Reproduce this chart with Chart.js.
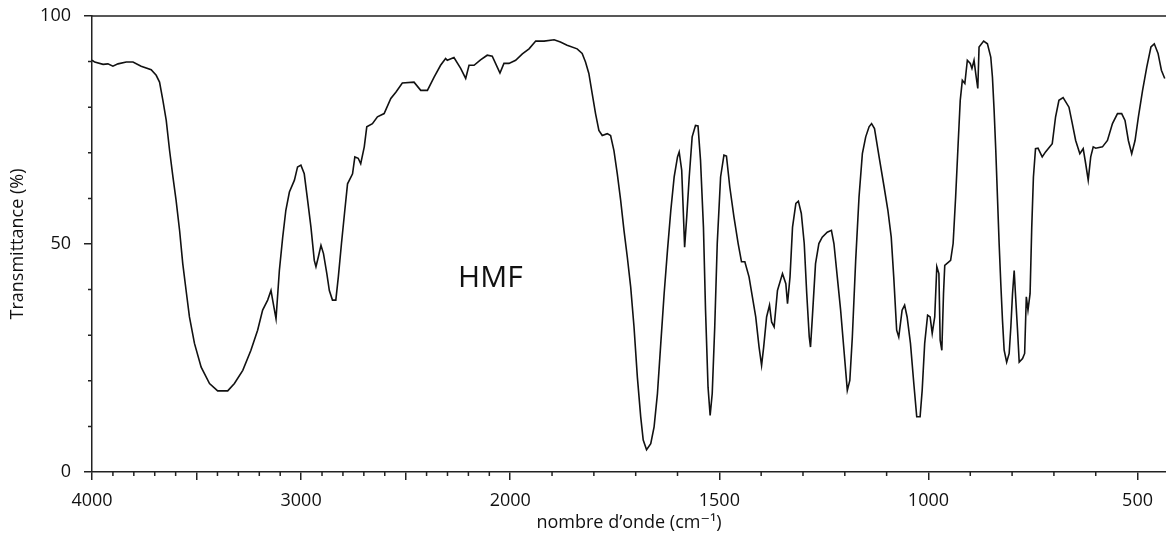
<!DOCTYPE html>
<html>
<head>
    <title>HMF IR spectrum</title>
    <script src="https://cdn.jsdelivr.net/npm/chart.js"></script>
    <style>
        body {
            margin: 0;
            padding: 0;
            background: white;
        }
        canvas {
            display: block;
        }
    </style>
</head>
<body>
    <canvas id="irChart" width="1166" height="540"></canvas>

    <script>
        // spectrum (wavenumber in cm-1, transmittance in %)
        const waveNumbers = [
            4000, 3987, 3947, 3924, 3900, 3876, 3836, 3804, 3765, 3717, 3693, 3677, 3661, 3645, 3629, 3613,
            3598, 3581, 3566, 3550, 3534, 3510, 3478, 3438, 3399, 3351, 3319, 3279, 3240, 3208, 3184, 3160,
            3144, 3136, 3120, 3104, 3088, 3073, 3056, 3032, 3017, 3001, 2985, 2969, 2953, 2937, 2929, 2918,
            2905, 2893, 2877, 2865, 2850, 2834, 2822, 2807, 2791, 2778, 2754, 2743, 2727, 2715, 2698, 2686,
            2659, 2635, 2603, 2571, 2547, 2516, 2460, 2428, 2396, 2364, 2333, 2309, 2301, 2269, 2237, 2213,
            2197, 2173, 2142, 2110, 2086, 2062, 2049, 2030, 2006, 1987, 1971, 1955, 1939, 1919, 1895, 1880,
            1864, 1840, 1828, 1820, 1812, 1804, 1796, 1788, 1780, 1768, 1760, 1752, 1744, 1736, 1728, 1720,
            1712, 1704, 1696, 1688, 1682, 1674, 1664, 1656, 1648, 1640, 1632, 1624, 1616, 1608, 1600, 1596,
            1590, 1586, 1583, 1578, 1572, 1565, 1557, 1551, 1545, 1538, 1533, 1527, 1522, 1517, 1511, 1505,
            1497, 1489, 1483, 1475, 1465, 1455, 1447, 1439, 1429, 1421, 1413, 1405, 1399, 1394, 1387, 1380,
            1375, 1369, 1361, 1349, 1341, 1337, 1331, 1325, 1317, 1311, 1304, 1297, 1291, 1285, 1282, 1278,
            1270, 1262, 1254, 1242, 1232, 1226, 1218, 1210, 1202, 1194, 1188, 1182, 1174, 1166, 1158, 1150,
            1142, 1136, 1129, 1118, 1106, 1097, 1089, 1083, 1076, 1071, 1063, 1057, 1051, 1043, 1035, 1028,
            1020, 1015, 1009, 1002, 996, 991, 985, 980, 975, 972, 968, 964, 961, 947, 941, 935,
            929, 924, 919, 913, 907, 900, 896, 891, 887, 882, 879, 868, 859, 851, 847, 843,
            839, 835, 831, 827, 823, 819, 813, 807, 803, 799, 795, 792, 787, 783, 775, 770,
            766, 762, 757, 753, 749, 744, 738, 728, 720, 704, 696, 688, 678, 664, 656, 648,
            638, 630, 624, 618, 612, 606, 600, 584, 572, 560, 548, 538, 530, 522, 514, 506,
            498, 488, 478, 468, 460, 451, 443, 435
        ];
        const transmittance = [
            90.3, 89.9, 89.4, 89.5, 89.0, 89.5, 89.9, 89.9, 89.0, 88.2, 87.0, 85.5, 81.5, 77.1, 70.5, 64.7,
            59.6, 52.9, 45.7, 39.8, 34.0, 28.2, 23.0, 19.4, 17.8, 17.8, 19.4, 22.3, 26.7, 31.1, 35.5, 37.7,
            39.8, 37.7, 33.6, 44.2, 51.5, 57.4, 61.4, 64.0, 66.9, 67.3, 65.4, 59.6, 53.7, 46.4, 45.0, 47.1,
            49.7, 47.9, 43.5, 39.8, 37.7, 37.7, 42.8, 50.1, 57.4, 63.2, 65.4, 69.1, 68.8, 67.6, 71.3, 75.7,
            76.4, 77.9, 78.6, 81.9, 83.3, 85.3, 85.5, 83.7, 83.7, 86.6, 89.2, 90.7, 90.3, 90.9, 88.5, 86.3,
            89.2, 89.2, 90.4, 91.4, 91.2, 88.8, 87.5, 89.6, 89.6, 90.3, 91.7, 92.8, 94.5, 94.5, 94.8, 94.3,
            93.6, 92.8, 91.8, 89.9, 87.4, 83.0, 78.6, 74.9, 73.8, 74.2, 73.8, 70.5, 65.4, 59.6, 53.0, 47.1,
            40.6, 31.8, 20.8, 12.1, 7.0, 4.9, 6.2, 9.9, 17.2, 28.2, 39.1, 48.6, 57.4, 64.7, 69.1, 70.2,
            66.2, 56.7, 49.3, 55.9, 64.7, 73.5, 76.0, 75.9, 68.4, 53.7, 35.5, 18.6, 12.4, 17.2, 31.8, 50.1,
            64.7, 69.5, 69.3, 62.5, 55.9, 50.1, 46.1, 46.1, 42.8, 38.4, 34.0, 27.4, 23.4, 27.4, 34.0, 36.6,
            32.9, 31.8, 39.8, 43.5, 41.3, 36.9, 42.8, 53.7, 58.9, 59.4, 56.7, 50.1, 39.1, 29.6, 27.4, 33.3,
            45.7, 50.1, 51.5, 52.6, 53.0, 50.1, 42.8, 35.5, 26.7, 17.9, 20.1, 29.6, 46.4, 60.3, 69.8, 73.5,
            75.7, 76.4, 75.3, 69.1, 62.5, 57.4, 51.5, 42.8, 31.1, 29.6, 35.5, 36.6, 34.0, 28.2, 19.4, 12.1,
            12.1, 17.9, 28.2, 34.4, 34.0, 30.4, 34.0, 45.0, 43.5, 28.9, 26.7, 39.1, 45.3, 46.4, 50.1, 60.3,
            72.0, 81.5, 85.9, 85.2, 90.3, 89.6, 88.5, 90.3, 87.4, 84.1, 93.2, 94.5, 93.9, 91.0, 86.6, 79.3,
            70.5, 60.3, 50.1, 41.3, 33.3, 26.7, 24.1, 26.0, 31.8, 39.1, 44.2, 39.1, 31.1, 24.1, 24.9, 26.0,
            38.4, 35.5, 39.1, 53.7, 64.7, 70.9, 71.0, 69.1, 70.2, 72.0, 77.9, 81.5, 82.1, 80.0, 76.4, 72.7,
            69.8, 70.9, 67.6, 64.0, 69.1, 71.3, 71.0, 71.3, 72.7, 76.4, 78.6, 78.6, 77.1, 72.7, 69.8, 72.7,
            77.9, 83.7, 88.8, 93.2, 93.9, 91.8, 88.1, 86.3
        ];

        // axis ticks
        const xMajorTicks = [4000, 3500, 3000, 2500, 2000, 1500, 1000, 500];
        const xTickLabels = ["4000", "", "3000", "", "2000", "1500", "1000", "500"];
        const yMajorTicks = [0, 50, 100];
        const yTickLabels = ["0", "50", "100"];

        const xMin = 432;
        const xMax = 4000;
        const scaleBreak = 2000;   // the spectrometer doubles the scale below 2000 cm-1

        const chartLabel = "HMF";
        const chartLabelAt = [2095, 40.6];

        const axisColor = "#222";
        const fontFamily = "'Open Sans', 'DejaVu Sans', sans-serif";

        // linear scale with a change of scale at 2000 cm-1
        class WaveScale extends Chart.LinearScale {
            buildTicks() {
                this.start = this.max;
                this.end = this.min;
                return xMajorTicks.map(v => ({ value: v }));
            }
            squeeze(v) {
                return v > scaleBreak ? scaleBreak + (v - scaleBreak) / 2 : v;
            }
            getPixelForValue(value) {
                const a = this.squeeze(this.min), b = this.squeeze(this.max);
                return this.getPixelForDecimal((this.squeeze(value) - a) / (b - a));
            }
            getValueForPixel(pixel) {
                const a = this.squeeze(this.min), b = this.squeeze(this.max);
                const u = a + this.getDecimalForPixel(pixel) * (b - a);
                return u > scaleBreak ? scaleBreak + (u - scaleBreak) * 2 : u;
            }
        }
        WaveScale.id = "wavenumber";
        WaveScale.defaults = {};
        Chart.register(WaveScale);

        // minor ticks, top frame line and the HMF label
        const decor = {
            id: "decor",
            afterDraw(chart) {
                const ctx = chart.ctx;
                const a = chart.chartArea;
                const x = chart.scales.x, y = chart.scales.y;
                ctx.save();
                ctx.strokeStyle = axisColor;
                ctx.lineWidth = 1.5;
                ctx.beginPath();
                ctx.moveTo(a.left, a.top);
                ctx.lineTo(a.right, a.top);
                for (let v = 3900; v >= 500; v -= 100) {
                    if (v % 500 === 0) continue;
                    const px = x.getPixelForValue(v);
                    ctx.moveTo(px, a.bottom);
                    ctx.lineTo(px, a.bottom + 4);
                }
                for (let t = 10; t < 100; t += 10) {
                    if (t % 50 === 0) continue;
                    const py = y.getPixelForValue(t);
                    ctx.moveTo(a.left - 4, py);
                    ctx.lineTo(a.left, py);
                }
                ctx.stroke();

                ctx.fillStyle = "#111";
                ctx.font = "30px " + fontFamily;
                ctx.textAlign = "center";
                ctx.textBaseline = "alphabetic";
                ctx.fillText(chartLabel, x.getPixelForValue(chartLabelAt[0]), y.getPixelForValue(chartLabelAt[1]));
                ctx.restore();
            }
        };

        const points = waveNumbers.map((w, i) => ({ x: w, y: transmittance[i] }));

        new Chart(document.getElementById("irChart"), {
            type: "line",
            data: {
                datasets: [{
                    label: chartLabel,
                    data: points,
                    borderColor: "#111",
                    borderWidth: 1.6,
                    pointRadius: 0,
                    tension: 0,
                    fill: false
                }]
            },
            options: {
                responsive: false,
                animation: false,
                devicePixelRatio: 1,
                layout: { padding: { top: 16, right: 0, bottom: 0, left: 0 } },
                plugins: {
                    legend: { display: false },
                    tooltip: { enabled: false }
                },
                scales: {
                    x: {
                        type: "wavenumber",
                        min: xMin,
                        max: xMax,
                        reverse: true,
                        afterFit: s => {
                            s.height = 68;
                            s.paddingLeft = 0;
                            s.paddingRight = 0;
                        },
                        border: { display: true, color: axisColor, width: 1.5 },
                        grid: { drawOnChartArea: false, tickLength: 8, color: axisColor, lineWidth: 1.5 },
                        ticks: {
                            autoSkip: false,
                            maxRotation: 0,
                            padding: 10,
                            color: "#111",
                            font: { family: fontFamily, size: 18 },
                            callback: v => xTickLabels[xMajorTicks.indexOf(v)]
                        },
                        title: {
                            display: true,
                            text: "nombre d’onde (cm⁻¹)",
                            color: "#111",
                            font: { family: fontFamily, size: 18 },
                            padding: { top: 0, bottom: 6 }
                        }
                    },
                    y: {
                        min: 0,
                        max: 100,
                        afterFit: s => {
                            s.width = 92;
                            s.paddingTop = 0;
                            s.paddingBottom = 0;
                        },
                        afterBuildTicks: s => { s.ticks = yMajorTicks.map(v => ({ value: v })); },
                        border: { display: true, color: axisColor, width: 1.5 },
                        grid: { drawOnChartArea: false, tickLength: 8, color: axisColor, lineWidth: 1.5 },
                        ticks: {
                            padding: 13,
                            color: "#111",
                            font: { family: fontFamily, size: 18 },
                            callback: v => yTickLabels[yMajorTicks.indexOf(v)]
                        },
                        title: {
                            display: true,
                            text: "Transmittance (%)",
                            color: "#111",
                            font: { family: fontFamily, size: 18 },
                            padding: { top: 7, bottom: 0 }
                        }
                    }
                }
            },
            plugins: [decor]
        });
    </script>
</body>
</html>
